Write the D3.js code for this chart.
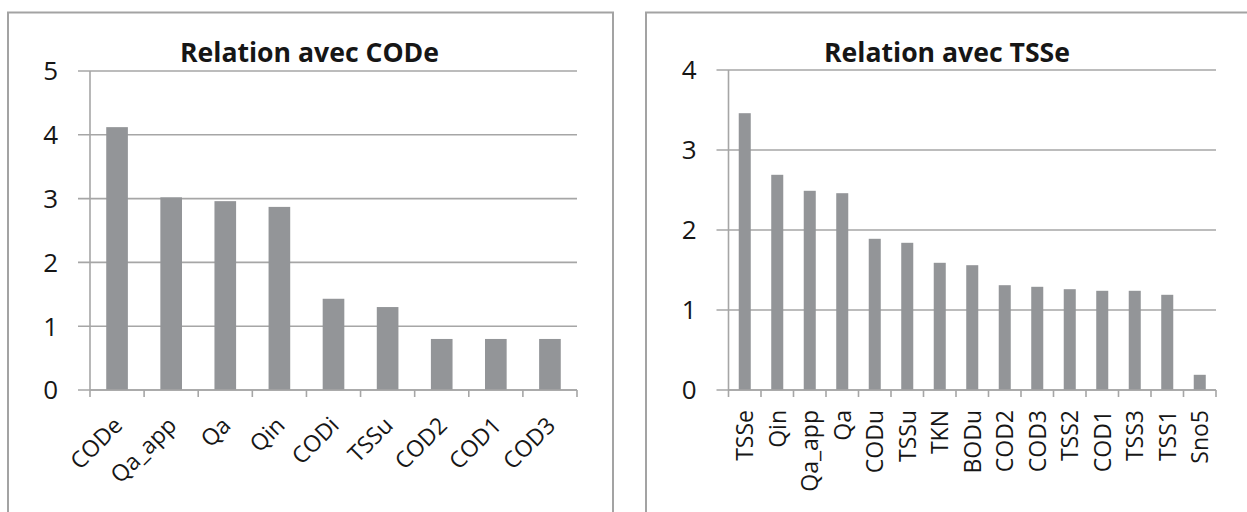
<!DOCTYPE html>
<html>
<head>
<meta charset="utf-8">
<script src="https://cdn.jsdelivr.net/npm/d3@7"></script>
<style>
  html, body { margin: 0; padding: 0; background: #fff; }
  svg { display: block; }
  text { font-family: "Open Sans", "DejaVu Sans", sans-serif; fill: #161616; }
</style>
</head>
<body>
<script>
// ---- Data ----
const codeTitle = "Relation avec CODe";
const codeCategories = ["CODe", "Qa_app", "Qa", "Qin", "CODi", "TSSu", "COD2", "COD1", "COD3"];
const codeValues = [4.12, 3.02, 2.96, 2.87, 1.43, 1.30, 0.80, 0.80, 0.80];
const codeTicks = [0, 1, 2, 3, 4, 5];

const tssTitle = "Relation avec TSSe";
const tssCategories = ["TSSe", "Qin", "Qa_app", "Qa", "CODu", "TSSu", "TKN", "BODu", "COD2", "COD3", "TSS2", "COD1", "TSS3", "TSS1", "Sno5"];
const tssValues = [3.46, 2.69, 2.49, 2.46, 1.89, 1.84, 1.59, 1.56, 1.31, 1.29, 1.26, 1.24, 1.24, 1.19, 0.19];
const tssTicks = [0, 1, 2, 3, 4];

// ---- Layout ----
const W = 1247, H = 512;
const svg = d3.select("body").append("svg").attr("width", W).attr("height", H);

const barColor = "#939598";
const gridColor = "#a6a6a6";
const frameColor = "#a3a3a3";

function drawChart(cfg) {
  const g = svg.append("g");
  // frame
  g.append("rect")
    .attr("x", cfg.frame[0]).attr("y", cfg.frame[1])
    .attr("width", cfg.frame[2]).attr("height", cfg.frame[3])
    .attr("fill", "none").attr("stroke", frameColor).attr("stroke-width", 2);

  const y = d3.scaleLinear().domain([0, d3.max(cfg.ticks)]).range([cfg.y0, cfg.yTop]);
  const x = d3.scaleBand().domain(cfg.categories).range([cfg.x0, cfg.x1])
    .paddingInner(cfg.pad).paddingOuter(cfg.pad / 2);

  // gridlines (extend left of axis as tick marks)
  g.append("g").selectAll("line").data(cfg.ticks).join("line")
    .attr("x1", cfg.x0 - 12).attr("x2", cfg.x1)
    .attr("y1", d => y(d)).attr("y2", d => y(d))
    .attr("stroke", gridColor).attr("stroke-width", 1.6);

  // y axis line
  g.append("line")
    .attr("x1", cfg.x0).attr("x2", cfg.x0)
    .attr("y1", y(d3.max(cfg.ticks))).attr("y2", y(0))
    .attr("stroke", gridColor).attr("stroke-width", 1.6);

  // y tick labels
  g.append("g").selectAll("text").data(cfg.ticks).join("text")
    .attr("x", cfg.x0 - 32).attr("y", d => y(d))
    .attr("dy", "0.36em")
    .attr("text-anchor", "end")
    .style("font-size", "26px")
    .text(d => d);

  // bars
  g.append("g").selectAll("rect").data(cfg.values).join("rect")
    .attr("x", (d, i) => x(cfg.categories[i]))
    .attr("width", x.bandwidth())
    .attr("y", d => y(d))
    .attr("height", d => y(0) - y(d))
    .attr("fill", barColor);

  // x tick marks at category boundaries
  const bounds = d3.range(cfg.categories.length + 1).map(i => cfg.x0 + i * x.step());
  g.append("g").selectAll("line").data(bounds).join("line")
    .attr("x1", d => d).attr("x2", d => d)
    .attr("y1", y(0)).attr("y2", y(0) + 7)
    .attr("stroke", gridColor).attr("stroke-width", 1.6);

  // x axis line
  g.append("line")
    .attr("x1", cfg.x0).attr("x2", cfg.x1)
    .attr("y1", y(0)).attr("y2", y(0))
    .attr("stroke", gridColor).attr("stroke-width", 1.6);

  // x labels
  g.append("g").selectAll("text").data(cfg.categories).join("text")
    .attr("transform", d => {
      const cx = x(d) + x.bandwidth() / 2;
      return `translate(${cx + cfg.labelDx},${cfg.labelY}) rotate(${cfg.labelRot})`;
    })
    .attr("dy", "0.36em")
    .attr("text-anchor", "end")
    .style("font-size", "23px")
    .text(d => d);

  // title
  g.append("text")
    .attr("x", cfg.titleX).attr("y", 62)
    .attr("text-anchor", "middle")
    .attr("textLength", cfg.titleLen)
    .attr("lengthAdjust", "spacingAndGlyphs")
    .style("font-size", "26px").style("font-weight", "bold")
    .text(cfg.title);
}

drawChart({
  title: codeTitle, categories: codeCategories, values: codeValues, ticks: codeTicks,
  frame: [8, 12.5, 605, 520],
  x0: 90, x1: 577, y0: 390, yTop: 71, pad: 0.6,
  labelDx: 1, labelY: 421, labelRot: -45,
  titleX: 309.5, titleLen: 259
});

drawChart({
  title: tssTitle, categories: tssCategories, values: tssValues, ticks: tssTicks,
  frame: [646, 12.5, 610, 520],
  x0: 728.5, x1: 1216, y0: 390, yTop: 70, pad: 0.63,
  labelDx: 0, labelY: 410, labelRot: -90,
  titleX: 947, titleLen: 246
});
</script>
</body>
</html>
